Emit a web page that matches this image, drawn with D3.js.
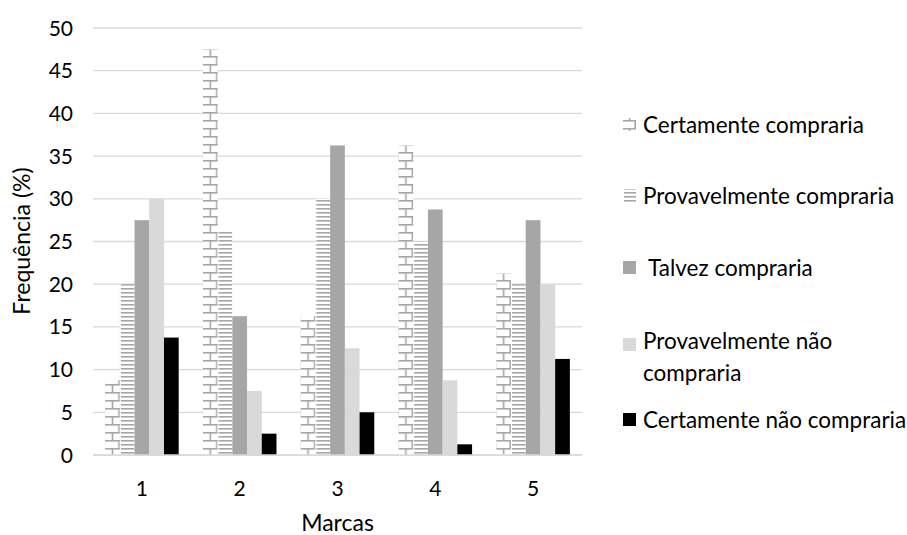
<!DOCTYPE html>
<html><head><meta charset="utf-8">
<script src="https://cdn.jsdelivr.net/npm/d3@7"></script>
<style>body{margin:0;background:#fff}text{font-family:Lato,"Open Sans",sans-serif;fill:#000}</style>
</head><body><svg id="c" width="907" height="535"></svg>
<script>
const categories = ["1","2","3","4","5"];
const seriesNames = ["Certamente compraria","Provavelmente compraria","Talvez compraria","Provavelmente não compraria","Certamente não compraria"];
const certamenteCompraria = [8.75, 47.5, 16.25, 36.25, 21.25];
const provavelmenteCompraria = [20, 26.25, 30, 25, 20];
const talvezCompraria = [27.5, 16.25, 36.25, 28.75, 27.5];
const provavelmenteNaoCompraria = [30, 7.5, 12.5, 8.75, 20];
const certamenteNaoCompraria = [13.75, 2.5, 5, 1.25, 11.25];
const yTicks = [0,5,10,15,20,25,30,35,40,45,50];
const seriesValues = [certamenteCompraria, provavelmenteCompraria, talvezCompraria, provavelmenteNaoCompraria, certamenteNaoCompraria];

const svg = d3.select("#c");
const pLeft = 93, pRight = 582, pTop = 28, pBottom = 455;
const y = d3.scaleLinear().domain([0,50]).range([pBottom, pTop]);
const x = d3.scaleBand().domain(categories).range([pLeft, pRight]).paddingInner(0.248).paddingOuter(0.124);
const xs = d3.scaleBand().domain(d3.range(5)).range([0, x.bandwidth()]);
const bw = xs.bandwidth();
const gray = "#a6a6a6";
const defs = svg.append("defs");

function brick(id, x0, w){
  const p = defs.append("pattern").attr("id", id).attr("patternUnits","userSpaceOnUse")
    .attr("x", x0).attr("y", 0).attr("width", w).attr("height", 16);
  p.append("rect").attr("width", w).attr("height", 16).attr("fill", "#fff");
  p.append("rect").attr("x",0).attr("y",0).attr("width",w).attr("height",1.6).attr("fill",gray);
  p.append("rect").attr("x",0).attr("y",8).attr("width",w).attr("height",1.6).attr("fill",gray);
  p.append("rect").attr("x",w/2-0.8).attr("y",0).attr("width",1.6).attr("height",8).attr("fill",gray);
  p.append("rect").attr("x",w-1.6).attr("y",8).attr("width",1.6).attr("height",8).attr("fill",gray);
}
function hlines(id, x0, w){
  const p = defs.append("pattern").attr("id", id).attr("patternUnits","userSpaceOnUse")
    .attr("x", x0).attr("y", 0).attr("width", w).attr("height", 4);
  p.append("rect").attr("width", w).attr("height", 4).attr("fill", "#fff");
  p.append("rect").attr("x",1).attr("y",0).attr("width",w-1).attr("height",1.6).attr("fill",gray);
}

// gridlines
svg.append("g").selectAll("line").data(yTicks).join("line")
  .attr("x1", pLeft).attr("x2", pRight).attr("y1", d=>y(d)).attr("y2", d=>y(d))
  .attr("stroke", "#d9d9d9").attr("stroke-width", 1.3);

// y tick labels
svg.append("g").selectAll("text").data(yTicks).join("text")
  .attr("x", 73).attr("y", d=>y(d)).attr("dy","0.36em").attr("text-anchor","end")
  .attr("font-size", 21).text(d=>d);

// bars
const fills = [null, null, "#a6a6a6", "#d9d9d9", "#000000"];
categories.forEach((c, ci) => {
  const gx = x(c);
  brick("brick"+ci, gx + xs(0), bw);
  hlines("hl"+ci, gx + xs(1), bw);
  seriesValues.forEach((vals, si) => {
    let f = fills[si];
    if (si === 0) f = "url(#brick"+ci+")";
    if (si === 1) f = "url(#hl"+ci+")";
    svg.append("rect").attr("x", gx + xs(si)).attr("width", bw)
      .attr("y", y(vals[ci])).attr("height", y(0) - y(vals[ci])).attr("fill", f);
  });
});

// baseline
svg.append("line").attr("x1", pLeft).attr("x2", pRight).attr("y1", y(0)).attr("y2", y(0))
  .attr("stroke", "#d9d9d9").attr("stroke-width", 1.3);

// x labels
svg.append("g").selectAll("text").data(categories).join("text")
  .attr("x", d=>x(d)+x.bandwidth()/2).attr("y", 488).attr("dy","0.36em").attr("text-anchor","middle")
  .attr("font-size", 21).text(d=>d);

svg.append("text").attr("x", (pLeft+pRight)/2).attr("y", 523).attr("dy","0.36em").attr("text-anchor","middle")
  .attr("font-size", 23).text("Marcas");
svg.append("text").attr("transform","translate(22,241) rotate(-90)").attr("dy","0.36em").attr("text-anchor","middle")
  .attr("font-size", 23).text("Frequência (%)");

// legend
const legY = [125, 196, 268, 341, 420];
const legSq = [125, 196, 268, 345, 420];
const legLines = [["Certamente compraria"],["Provavelmente compraria"],["\u00a0Talvez compraria"],["Provavelmente não","compraria"],["Certamente não compraria"]];
brick("brickL", 623, 13);
hlines("hlL", 623, 13);
legY.forEach((ly, i) => {
  let f = fills[i];
  if (i === 0) f = "url(#brickL)";
  if (i === 1) f = "url(#hlL)";
  svg.append("rect").attr("x", 623).attr("y", legSq[i]-7).attr("width", 13).attr("height", 13).attr("fill", f);
  legLines[i].forEach((t, k) => {
    svg.append("text").attr("x", 643).attr("y", ly + k*32).attr("dy","0.36em").attr("font-size", 22.5)
      .style("white-space","pre").text(t);
  });
});
</script></body></html>
